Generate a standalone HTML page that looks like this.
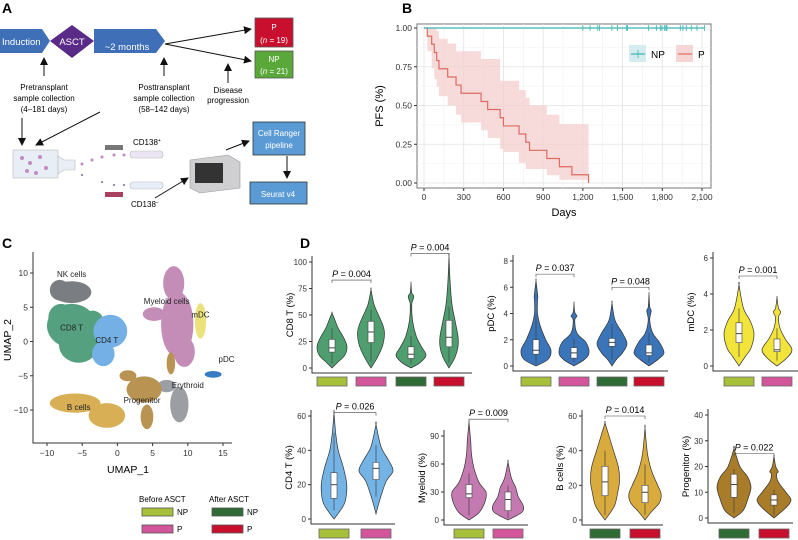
<!DOCTYPE html>
<html><head><meta charset="utf-8"><style>
body{margin:0;background:#fff;}
svg{display:block;font-family:"Liberation Sans",Arial,sans-serif;}
</style></head><body>
<svg id="fig" width="798" height="540" viewBox="0 0 798 540" xmlns="http://www.w3.org/2000/svg">
<defs>
<marker id="ah" markerWidth="8" markerHeight="8" refX="7" refY="4" orient="auto"><path d="M0,0 L8,4 L0,8 z" fill="#111"/></marker>
</defs>
<g font-size="8">
<text x="2" y="13" font-size="14" font-weight="bold">A</text>
<path d="M0,29 H42 L50,41 L42,53 H0 z" fill="#3f6fb6"/>
<text x="2" y="45" fill="#fff" font-size="9.5">Induction</text>
<path d="M72,25 L94,41 L72,58 L50,41 z" fill="#5a2a87"/>
<text x="72" y="45" fill="#fff" font-size="9.5" text-anchor="middle">ASCT</text>
<path d="M94,29 H156 L165,41 L156,53 H94 z" fill="#3f6fb6"/>
<text x="127" y="50" fill="#fff" font-size="9.5" text-anchor="middle">~2 months</text>
<line x1="165" y1="44" x2="251" y2="29" stroke="#111" stroke-width="1" marker-end="url(#ah)"/>
<line x1="165" y1="44" x2="251" y2="61" stroke="#111" stroke-width="1" marker-end="url(#ah)"/>
<rect x="255" y="18" width="38" height="29" fill="#c8102e" stroke="#555" stroke-width=".8"/>
<text x="274" y="30" fill="#fff" font-size="8" text-anchor="middle">P</text>
<text x="274" y="43" fill="#fff" font-size="8" text-anchor="middle">(<tspan font-style="italic">n</tspan> = 19)</text>
<rect x="255" y="51" width="38" height="27" fill="#5aa83a" stroke="#555" stroke-width=".8"/>
<text x="274" y="62" fill="#fff" font-size="8" text-anchor="middle">NP</text>
<text x="274" y="74" fill="#fff" font-size="8" text-anchor="middle">(<tspan font-style="italic">n</tspan> = 21)</text>
<line x1="44" y1="76" x2="44" y2="58" stroke="#111" marker-end="url(#ah)"/>
<line x1="164" y1="76" x2="164" y2="58" stroke="#111" marker-end="url(#ah)"/>
<line x1="228" y1="83" x2="228" y2="64" stroke="#111" marker-end="url(#ah)"/>
<text x="44" y="90" text-anchor="middle">Pretransplant</text>
<text x="44" y="101" text-anchor="middle">sample collection</text>
<text x="44" y="112" text-anchor="middle">(4–181 days)</text>
<text x="164" y="90" text-anchor="middle">Posttransplant</text>
<text x="164" y="101" text-anchor="middle">sample collection</text>
<text x="164" y="112" text-anchor="middle">(58–142 days)</text>
<text x="228" y="93" text-anchor="middle">Disease</text>
<text x="228" y="103" text-anchor="middle">progression</text>
<line x1="22" y1="118" x2="22" y2="145" stroke="#111" marker-end="url(#ah)"/>
<line x1="100" y1="112" x2="36" y2="145" stroke="#111" marker-end="url(#ah)"/>
<rect x="13" y="150" width="45" height="28" fill="#e8eef6" stroke="#bbb" stroke-width=".6"/>
<path d="M58,156 L64,160 H75 V170 H64 L58,174 z" fill="#e8eef6" stroke="#bbb" stroke-width=".6"/>
<g fill="#c48ac4"><circle cx="22" cy="158" r="2"/><circle cx="30" cy="163" r="2"/><circle cx="40" cy="157" r="2"/><circle cx="27" cy="171" r="2"/><circle cx="46" cy="168" r="2"/><circle cx="36" cy="173" r="2"/><circle cx="82" cy="164" r="1.5"/><circle cx="92" cy="160" r="1.5"/><circle cx="102" cy="157" r="1.5"/><circle cx="114" cy="155" r="1.5"/><circle cx="124" cy="155" r="1.5"/></g>
<g fill="#6a6f99"><circle cx="82" cy="175" r="1"/><circle cx="102" cy="182" r="1"/><circle cx="114" cy="185" r="1"/><circle cx="124" cy="185" r="1"/></g>
<rect x="105" y="145" width="18" height="5" fill="#777"/>
<rect x="105" y="192" width="18" height="5" fill="#a84060"/>
<rect x="130" y="151" width="33" height="7" rx="3" fill="#ece6f4" stroke="#bbb" stroke-width=".6"/>
<rect x="130" y="182" width="33" height="7" rx="3" fill="#e6eef8" stroke="#bbb" stroke-width=".6"/>
<text x="133" y="145">CD138<tspan font-size="5" dy="-3">+</tspan></text>
<text x="131" y="207">CD138<tspan font-size="5" dy="-3">−</tspan></text>
<line x1="155" y1="198" x2="188" y2="178" stroke="#111" marker-end="url(#ah)"/>
<path d="M190,160 L228,155 L240,162 V188 L200,193 L190,188 z" fill="#cfcfd2" stroke="#999" stroke-width=".6"/>
<rect x="195" y="163" width="28" height="20" fill="#333"/>
<line x1="226" y1="150" x2="249" y2="141" stroke="#111" marker-end="url(#ah)"/>
<rect x="253" y="122" width="52" height="33" fill="#5b9bd5" stroke="#333" stroke-width=".8"/>
<text x="279" y="136" fill="#fff" text-anchor="middle">Cell Ranger</text>
<text x="279" y="148" fill="#fff" text-anchor="middle">pipeline</text>
<line x1="287" y1="156" x2="287" y2="178" stroke="#111" marker-end="url(#ah)"/>
<rect x="250" y="182" width="57" height="22" fill="#5b9bd5" stroke="#333" stroke-width=".8"/>
<text x="278" y="197" fill="#fff" text-anchor="middle">Seurat v4</text>
</g>
<g id="gB"></g>
<g id="gC"></g>
<g id="gD"></g>
</svg>
<script>
const NS="http://www.w3.org/2000/svg";
function mk(p,tag,at,txt){const e=document.createElementNS(NS,tag);for(const k in at)e.setAttribute(k,at[k]);if(txt!==undefined)e.textContent=txt;p.appendChild(e);return e;}

const pTimes=[25,58,78,96,113,179,242,280,431,481,575,600,718,769,797,928,1023,1117,1243];
const pSurv=[0.947,0.895,0.842,0.790,0.737,0.684,0.632,0.579,0.526,0.474,0.421,0.368,0.316,0.263,0.211,0.158,0.105,0.053,0];
const pUpper=[1,1,1,0.98,0.93,0.90,0.85,0.85,0.80,0.80,0.66,0.66,0.60,0.55,0.50,0.44,0.38,0.38];
const pLower=[0.85,0.74,0.67,0.62,0.56,0.50,0.44,0.39,0.34,0.29,0.22,0.20,0.13,0.09,0.09,0.05,0.02,0.02];
const npCensor=[1200,1255,1313,1326,1419,1462,1528,1538,1697,1755,1785,1797,1818,1828,1835,1936,1956,1981,2019,2062,2118];
const bXTicks=[0,300,600,900,1200,1500,1800,2100];
const bXTickLabels=["0","300","600","900","1,200","1,500","1,800","2,100"];
const bYTicks=[0,0.25,0.5,0.75,1];
const bYTickLabels=["0.00","0.25","0.50","0.75","1.00"];

(function(){
const g=document.getElementById('gB');
const X=d=>424+d*278/2100, Y=v=>183-v*155;
const t=mk(g,'text',{x:402,y:13,'font-size':14,'font-weight':'bold'},'B');


const frame=mk(g,'rect',{x:417,y:24,width:294,height:164,fill:'#fff',stroke:'#777','stroke-width':1});


for(const v of [0.125,0.375,0.625,0.875]) mk(g,'line',{x1:417,x2:711,y1:Y(v),y2:Y(v),stroke:'#f0f0f0','stroke-width':.6});
for(let i=0;i<bXTicks.length-1;i++){const m=(bXTicks[i]+bXTicks[i+1])/2;mk(g,'line',{x1:X(m),x2:X(m),y1:24,y2:188,stroke:'#f0f0f0','stroke-width':.6});}
bYTicks.forEach((v,i)=>{mk(g,'line',{x1:417,x2:711,y1:Y(v),y2:Y(v),stroke:'#e3e3e3','stroke-width':.8});
 mk(g,'line',{x1:414,x2:417,y1:Y(v),y2:Y(v),stroke:'#333'});
 const l=mk(g,'text',{x:412,y:Y(v)+3,'font-size':8.5,'text-anchor':'end',fill:'#333'},bYTickLabels[i]);
 
 });
bXTicks.forEach((d,i)=>{mk(g,'line',{x1:X(d),x2:X(d),y1:24,y2:188,stroke:'#e3e3e3','stroke-width':.8});
 mk(g,'line',{x1:X(d),x2:X(d),y1:188,y2:191,stroke:'#333'});
 const l=mk(g,'text',{x:X(d),y:200,'font-size':8.5,'text-anchor':'middle',fill:'#333'},bXTickLabels[i]);
 
 });
const xl=mk(g,'text',{x:564,y:216,'font-size':11,'text-anchor':'middle'},'Days');


const yl=mk(g,'text',{x:383,y:106,'font-size':11,'text-anchor':'middle',transform:'rotate(-90 383 106)'},'PFS (%)');


let d='';
for(let i=0;i<pUpper.length;i++){const x0=X(pTimes[i]),x1=X(pTimes[i+1]);d+=`M${x0},${Y(pUpper[i])}H${x1}V${Y(pLower[i])}H${x0}z`;}
const band=mk(g,'path',{d:d,fill:'#f4cfcd',opacity:.75});


let pd=`M${X(0)},${Y(1)}`;
pTimes.forEach((tt,i)=>{pd+=`H${X(tt)}V${Y(pSurv[i])}`;});
const pl=mk(g,'path',{d:pd,fill:'none',stroke:'#de6b60','stroke-width':1.2});


const nl=mk(g,'line',{x1:X(0),x2:X(npCensor[npCensor.length-1]),y1:Y(1),y2:Y(1),stroke:'#3bb3b3','stroke-width':1.2});


npCensor.forEach(c=>{const m=mk(g,'line',{x1:X(c),x2:X(c),y1:Y(1)-3,y2:Y(1)+3,stroke:'#3bb3b3','stroke-width':.8});
 
 });
const lg=mk(g,'g',{});


mk(lg,'rect',{x:629,y:45,width:17,height:17,fill:'#d5ecee'});
mk(lg,'line',{x1:631,x2:645,y1:54,y2:54,stroke:'#3bb3b3','stroke-width':1.2});
mk(lg,'line',{x1:638,x2:638,y1:50,y2:58,stroke:'#3bb3b3','stroke-width':.8});
mk(lg,'text',{x:651,y:58,'font-size':10},'NP');
mk(lg,'rect',{x:676,y:45,width:17,height:17,fill:'#f6d6d4'});
mk(lg,'line',{x1:678,x2:692,y1:54,y2:54,stroke:'#de6b60','stroke-width':1.2});
mk(lg,'text',{x:698,y:58,'font-size':10},'P');
})();

const umapXTicks=[-10,-5,0,5,10,15];
const umapYTicks=[10,5,0,-5,-10];
const clusterNames=["NK cells","CD8 T","CD4 T","Myeloid cells","mDC","pDC","Erythroid","Progenitor","B cells"];
const clusterColors=["#7a7d82","#55a07e","#74b0e6","#c48db8","#ece27c","#3a7cc4","#9b9fa3","#b89352","#d8af55"];
const clusterBlobs=[[0,-6.5,7.2,2.8,1.6],[0,-8.2,7.5,1.4,1.5],
[1,-6.5,2.3,3.5,3.2],[1,-5.5,-0.5,2.8,2.6],[1,-8,3.5,1.8,2],[1,-3.5,3,1.5,1.5],
[2,-1,1.5,2.4,2.4],[2,-2,-1.8,1.6,1.8],
[3,8.5,2.5,2.3,4.8],[3,8,8.5,1.5,2.5],[3,5.2,4,1.6,1],[3,9.5,-1.5,1.5,2.2],
[4,11.8,3,0.8,2.6],[5,13.6,-4.8,1.2,0.5],
[6,8.8,-9.2,1.3,2.6],[6,7,-6.5,1.3,0.9],
[7,3.8,-7,2.5,1.9],[7,4.2,-11,0.9,1.8],[7,7.6,-3.2,0.6,1.6],[7,1.5,-5,1.2,0.8],
[8,-6,-9,3.6,1.4],[8,-1.5,-10.8,2.6,1.8]];
const labelPos=[[-6.5,9.4],[-6.5,1.6],[-1.5,-0.2],[7,5.5],[11.8,3.5],[15.5,-3],[10,-6.8],[3.5,-9],[-5.5,-10]];

(function(){
const g=document.getElementById('gC');
const X=u=>47+(u+10)*7.04, Y=v=>273+(10-v)*6.85;
const t=mk(g,'text',{x:2,y:248,'font-size':14,'font-weight':'bold'},'C');


clusterBlobs.forEach(b=>{const e=mk(g,'ellipse',{cx:X(b[1]),cy:Y(b[2]),rx:b[3]*7.04,ry:b[4]*6.85,fill:clusterColors[b[0]]});
 
 });
clusterNames.forEach((n,i)=>{const l=mk(g,'text',{x:X(labelPos[i][0]),y:Y(labelPos[i][1]),'font-size':8,'text-anchor':'middle',fill:'#222'},n);
 
 });
mk(g,'path',{d:'M33,252V443H232',fill:'none',stroke:'#333','stroke-width':1});
umapXTicks.forEach(v=>{mk(g,'line',{x1:X(v),x2:X(v),y1:443,y2:446,stroke:'#333'});
 const l=mk(g,'text',{x:X(v),y:456,'font-size':8.5,'text-anchor':'middle',fill:'#333'},v<0?'−'+(-v):String(v));
 
 });
umapYTicks.forEach(v=>{mk(g,'line',{x1:30,x2:33,y1:Y(v),y2:Y(v),stroke:'#333'});
 const l=mk(g,'text',{x:28,y:Y(v)+3,'font-size':8.5,'text-anchor':'end',fill:'#333'},v<0?'−'+(-v):String(v));
 
 });
const xl=mk(g,'text',{x:128,y:473,'font-size':10.5,'text-anchor':'middle'},'UMAP_1');


const yl=mk(g,'text',{x:11,y:340,'font-size':10.5,'text-anchor':'middle',transform:'rotate(-90 11 340)'},'UMAP_2');


const lg=mk(g,'g',{'font-size':8});


mk(lg,'text',{x:139,y:502},'Before ASCT');
mk(lg,'text',{x:209,y:502},'After ASCT');
[[142,508,'#a6c139','NP'],[142,525,'#d3559c','P'],[212,508,'#2f6b34','NP'],[212,525,'#c8102e','P']].forEach(s=>{
 mk(lg,'rect',{x:s[0],y:s[1],width:31,height:8,fill:s[2],stroke:'#555','stroke-width':.8});
 mk(lg,'text',{x:s[0]+35,y:s[1]+7},s[3]);});
})();

const groupColors={npB:"#a6c139",pB:"#d3559c",npA:"#2f6b34",pA:"#c8102e"};
const cd8Levels=[[0,5,12,20,28,38,45,52],[0,8,20,32,40,50,60,74],[0,5,12,20,30,45,60,65,68,71,80],[0,10,20,30,45,60,80,105]];
const cd8Widths=[[0,.35,.85,1,.8,.4,.2,0],[0,.35,.75,.9,.8,.5,.2,0],[0,.6,1,.7,.35,.1,.05,.15,.18,.05,0],[0,.4,.6,.6,.4,.2,.08,0]];
const cd8Box=[[4,15,19,27,38],[6,24,34,44,55],[4,9,13,20,30],[5,20,29,45,58]];
const pdcLevels=[[0,.5,1.2,2,3,4,5,5.3,6.5],[0,.5,1,1.8,2.5,3.5,3.8,4.1,4.8],[0,.5,1,1.7,2.5,3.5,4.8],[0,.5,1,1.8,2.5,3.5,4.2,4.5,5.5]];
const pdcWidths=[[0,.8,1,.65,.3,.1,.1,.12,0],[0,.7,1,.8,.2,.05,.2,.05,0],[0,.3,.7,1,.7,.2,0],[0,.6,1,.7,.25,.05,.15,.05,0]];
const pdcBox=[[0.2,.9,1.2,2,3.8],[0.3,.6,1,1.4,2.1],[0.5,1.5,1.8,2.1,3.2],[0.3,.8,1,1.6,2.5]];
const mdcLevels=[[0,.5,1,1.8,2.5,3.2,4.5],[0,.4,.9,1.5,2.1,2.7,3,3.2,3.8]];
const mdcWidths=[[0,.4,.8,1,.75,.3,0],[0,.6,1,.55,.2,.1,.25,.1,0]];
const mdcBox=[[0.5,1.3,1.8,2.4,3.2],[0.3,.8,.9,1.5,2.1]];
const cd4Levels=[[0,4,10,20,30,40,50,62],[3,12,22,28,34,42,55]];
const cd4Widths=[[0,.3,.65,.75,.55,.25,.1,0],[0,.25,.6,1,.75,.3,0]];
const cd4Box=[[5,12,20,27,50],[13,23,29.5,33,43]];
const myeLevels=[[0,8,20,30,40,55,70,85,95,105],[0,8,15,25,35,45,62]];
const myeWidths=[[0,.6,.95,1,.6,.3,.15,.1,.05,0],[0,.8,.9,.6,.45,.2,0]];
const myeBox=[[5,24,28,38,50],[2,10,22,30,37]];
const bcLevels=[[0,8,16,22,30,40,48,56],[0,5,10,15,20,28,38,53]];
const bcWidths=[[0,.55,.75,.85,.8,.5,.25,0],[0,.4,.85,.95,.75,.4,.15,0]];
const bcBox=[[3,14,22,31,40],[3,10,16,20,32]];
const proLevels=[[0,3,8,12,16,20,27],[0,4,7,10,14,17,18,20,24]];
const proWidths=[[0,.55,.85,1,.8,.35,0],[0,.7,1,.7,.25,.15,.25,.1,0]];
const proBox=[[2,8,13,17,19],[1,5,7,9,11]];

const panels=[
 {name:'cd8',title:'CD8 T (%)',color:'#4f9e6f',axisX:312,right:472,y0:368,y1:262,vmax:100,ticks:[0,25,50,75,100],cats:[332,371,411,449],groups:['npB','pB','npA','pA'],lv:cd8Levels,w:cd8Widths,box:cd8Box,hw:15,swY:377,
  pvals:[[0,1,83,'0.004'],[2,3,108,'0.004']]},
 {name:'pdc',title:'pDC (%)',color:'#3a74b9',axisX:513,right:668,y0:366,y1:261,vmax:8,ticks:[0,2,4,6,8],cats:[536,574,612,649],groups:['npB','pB','npA','pA'],lv:pdcLevels,w:pdcWidths,box:pdcBox,hw:15,swY:377,
  pvals:[[0,1,7,'0.037'],[2,3,6,'0.048']]},
 {name:'mdc',title:'mDC (%)',color:'#f2e43a',axisX:713,right:798,y0:366,y1:258,vmax:6,ticks:[0,2,4,6],cats:[739,777],groups:['npB','pB'],lv:mdcLevels,w:mdcWidths,box:mdcBox,hw:15,swY:377,
  pvals:[[0,1,5,'0.001']]},
 {name:'cd4',title:'CD4 T (%)',color:'#74b3e6',axisX:311,right:395,y0:519,y1:416,vmax:60,ticks:[0,20,40,60],cats:[334,376],groups:['npB','pB'],lv:cd4Levels,w:cd4Widths,box:cd4Box,hw:17,swY:529,
  pvals:[[0,1,62,'0.026']]},
 {name:'myeloid',title:'Myeloid (%)',color:'#c47ab0',axisX:444,right:528,y0:520,y1:436,vmax:90,ticks:[0,30,60,90],cats:[469,508],groups:['npB','pB'],lv:myeLevels,w:myeWidths,box:myeBox,hw:17,swY:529,
  pvals:[[0,1,108,'0.009']]},
 {name:'bcells',title:'B cells (%)',color:'#d9aa3c',axisX:582,right:663,y0:520,y1:416,vmax:60,ticks:[0,20,40,60],cats:[605,645],groups:['npA','pA'],lv:bcLevels,w:bcWidths,box:bcBox,hw:17,swY:529,
  pvals:[[0,1,60,'0.014']]},
 {name:'progenitor',title:'Progenitor (%)',color:'#a97c2a',axisX:708,right:793,y0:518,y1:415,vmax:40,ticks:[0,10,20,30,40],cats:[734,774],groups:['npA','pA'],lv:proLevels,w:proWidths,box:proBox,hw:17,swY:529,
  pvals:[[0,1,25,'0.022']]}
];

function smoothPath(pts){let d=`M${pts[0][0]},${pts[0][1]}`;for(let i=0;i<pts.length-1;i++){const p0=pts[Math.max(0,i-1)],p1=pts[i],p2=pts[i+1],p3=pts[Math.min(pts.length-1,i+2)];
 d+=`C${p1[0]+(p2[0]-p0[0])/6},${p1[1]+(p2[1]-p0[1])/6} ${p2[0]-(p3[0]-p1[0])/6},${p2[1]-(p3[1]-p1[1])/6} ${p2[0]},${p2[1]}`;}return d;}

(function(){
const g=document.getElementById('gD');
const t=mk(g,'text',{x:300,y:248,'font-size':14,'font-weight':'bold'},'D');


panels.forEach(P=>{
 const pg=mk(g,'g',{});
 
 
 const Y=v=>P.y0-(v/P.vmax)*(P.y0-P.y1);
 mk(pg,'path',{d:`M${P.axisX},${P.y1-6}V${P.y0+5}H${P.right}`,fill:'none',stroke:'#333','stroke-width':1});
 P.ticks.forEach(v=>{mk(pg,'line',{x1:P.axisX-3,x2:P.axisX,y1:Y(v),y2:Y(v),stroke:'#333'});
  const l=mk(pg,'text',{x:P.axisX-5,y:Y(v)+3,'font-size':8,'text-anchor':'end',fill:'#333'},String(v));
  
  });
 const ty=(P.y0+P.y1)/2, tx=P.axisX-19;
 const yl=mk(pg,'text',{x:tx,y:ty,'font-size':9.5,'text-anchor':'middle',transform:`rotate(-90 ${tx} ${ty})`},P.title);
 
 
 P.cats.forEach((cx,i)=>{
  const lv=P.lv[i],w=P.w[i];
  const right=lv.map((v,k)=>[cx+w[k]*P.hw,Y(v)]);
  const left=lv.map((v,k)=>[cx-w[k]*P.hw,Y(v)]).reverse();
  const vp=mk(pg,'path',{d:smoothPath(right.concat(left))+'z',fill:P.color,stroke:'#333','stroke-width':.7});
  
  
  const b=P.box[i];
  mk(pg,'line',{x1:cx,x2:cx,y1:Y(b[0]),y2:Y(b[4]),stroke:'#444','stroke-width':.7});
  const bx=mk(pg,'rect',{x:cx-3,y:Y(b[3]),width:6,height:Y(b[1])-Y(b[3]),fill:'#fff',stroke:'#444','stroke-width':.6});
  
  
  mk(pg,'line',{x1:cx-3,x2:cx+3,y1:Y(b[2]),y2:Y(b[2]),stroke:'#444','stroke-width':1});
  const sw=mk(pg,'rect',{x:cx-15,y:P.swY,width:30,height:9,fill:groupColors[P.groups[i]],stroke:'#666','stroke-width':.8});
  
  
 });
 P.pvals.forEach(p=>{const a=P.cats[p[0]],b=P.cats[p[1]],y=Y(p[2]);
  mk(pg,'path',{d:`M${a},${y+3}V${y}H${b}V${y+3}`,fill:'none',stroke:'#444','stroke-width':.6});
  const l=mk(pg,'text',{x:(a+b)/2,y:y-3,'font-size':9,'text-anchor':'middle'});
  
  
  mk(l,'tspan',{'font-style':'italic'},'P');
  mk(l,'tspan',{},' = '+p[3]);
 });
});
})();
</script>
</body></html>
